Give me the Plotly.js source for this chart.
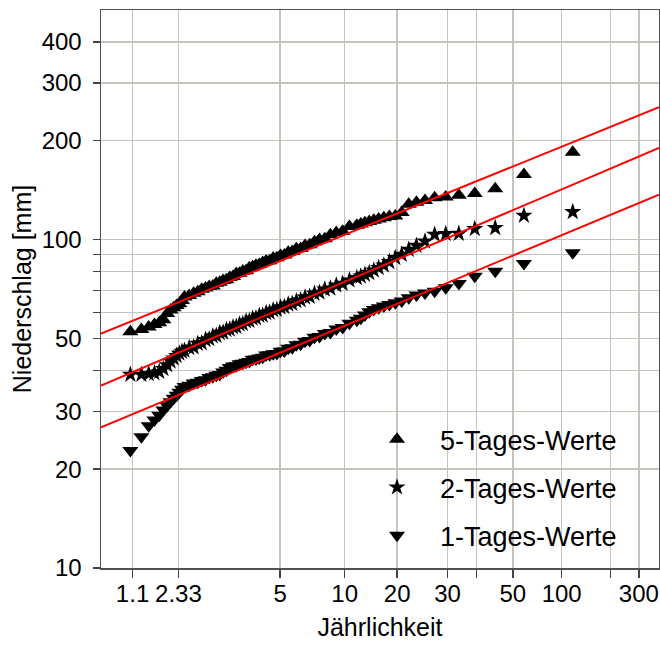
<!DOCTYPE html>
<html>
<head>
<meta charset="utf-8">
<script src="https://cdn.plot.ly/plotly-3.0.1.min.js"></script>
<style>html,body{margin:0;padding:0;background:#fff;}#chart{width:660px;height:646px;}</style>
</head>
<body>
<div id="chart"></div>
<script>
// Gumbel reduced variate of each plotting position (rank 1 = largest)
const reducedVariate = [4.7579,4.0604,3.6506,3.3585,3.1309,2.9441,2.7855,2.6475,2.5252,2.4152,2.3153,2.2236,2.1389,2.0600,1.9862,1.9169,1.8514,1.7894,1.7304,1.6741,
 1.5685,1.4713,1.3810,1.2962,1.2165,1.1409,1.0689,1.0004,0.9346,0.8714,0.8104,0.7514,0.6942,0.6386,0.5843,0.5314,0.4796,0.4288,0.3789,0.3297,0.2813,0.2333,0.1859,0.1390,0.0921,0.0455,-0.0010,-0.0475,-0.0940,-0.1409,-0.1880,-0.2356,-0.2838,-0.3328,-0.3828,-0.4340,-0.4866,-0.5410,-0.5976,-0.6570,-0.7199,-0.7872,
 -0.8230,-0.8605,-0.9000,-0.9419,-0.9868,-1.0354,-1.0887,-1.1483,-1.2166,-1.2984,-1.4034,-1.5607];

const werte5Tage = [184.5,157.8,142.7,138.0,136.4,134.8,134.0,131.5,130.0,128.0,121.0,118.0,117.5,116.5,115.5,114.5,113.5,112.5,111.5,110.6,
 109.5,106.0,105.0,103.5,100.5,100.0,98.5,96.5,96.0,94.0,93.8,92.0,91.5,89.8,89.5,88.0,87.8,86.2,86.0,85.2,84.0,83.5,82.6,82.0,80.4,80.2,79.0,78.8,77.2,76.6,75.4,75.0,74.2,73.6,72.2,72.0,71.2,70.6,69.4,68.6,67.6,66.8,
 65.2,63.8,63.0,62.0,61.0,59.5,57.0,55.8,55.1,54.2,53.2,52.4];

const werte2Tage = [121.4,118.3,108.5,107.8,104.3,104.1,103.6,98.8,95.9,93.2,90.0,88.0,85.5,83.5,82.0,80.6,79.2,78.2,77.3,76.5,
 75.2,73.4,72.6,71.0,70.5,69.0,68.5,67.0,66.7,65.4,65.0,63.8,63.5,62.4,62.2,61.2,61.0,60.0,59.8,58.8,58.7,57.7,57.5,56.6,56.4,55.4,55.2,54.3,54.1,53.3,53.1,52.2,52.0,51.0,50.8,49.8,49.5,48.4,48.2,47.0,46.8,45.9,
 45.6,45.0,44.3,43.5,42.6,41.5,40.4,39.6,39.2,39.0,38.8,38.8];

const werte1Tag = [91.1,84.5,80.1,77.3,73.5,71.3,69.6,68.8,67.8,66.5,65.0,64.2,63.4,62.8,62.0,61.2,60.3,58.9,57.6,56.8,
 55.6,54.0,53.4,52.1,51.8,50.7,50.4,49.3,49.0,48.0,47.8,46.8,46.7,45.8,45.7,45.0,44.9,44.6,44.5,43.8,43.6,43.3,43.2,42.5,42.3,42.0,41.9,41.3,41.2,40.8,40.0,39.5,38.8,38.6,38.2,38.0,37.4,37.2,36.8,36.6,36.0,35.7,
 35.0,34.3,33.6,32.9,32.1,31.2,30.3,29.2,28.2,27.1,25.1,22.8];

// Fitted lines (end points across the axis range)
const fitU = [-1.98, 5.99];
const fit5Tage = [51.7, 252.9];
const fit2Tage = [35.9, 190.2];
const fit1Tag = [26.8, 137.1];

// Axis ticks as drawn in the reference
const xTickVals = [-1.5293,-0.8746,0.5785,1.4999,2.2504,2.9702,3.3843,3.9019,4.6001,5.2958,5.7021];
const xTickText = ['1.1','2.33','5','10','20','30','','50','100','','300'];
const yTickVals = [10,20,30,40,50,60,70,80,90,100,200,300,400];
const yTickText = ['10','20','30','','50','','','','','100','200','300','400'];

const seriesNames = ['5-Tages-Werte','2-Tages-Werte','1-Tages-Werte'];

const FONT = '"Liberation Sans", Arial, sans-serif';

function pts(y, name, symbol, size, grp){
  return {type:'scatter', mode:'markers', x:reducedVariate, y:y, name:name, legendgroup:grp,
    marker:{symbol:symbol, size:size, color:'#000', line:{width:0}}, showlegend:true};
}
function fit(y){
  return {type:'scatter', mode:'lines', x:fitU, y:y, line:{color:'#ff0000', width:2}, showlegend:false, hoverinfo:'skip'};
}

const data = [
  pts(werte5Tage, seriesNames[0], 'triangle-up', 14, 'a'),
  pts(werte2Tage, seriesNames[1], 'star', 13, 'b'),
  pts(werte1Tag, seriesNames[2], 'triangle-down', 14, 'c'),
  fit(fit5Tage), fit(fit2Tage), fit(fit1Tag)
];

const layout = {
  width:660, height:646,
  margin:{l:101, r:1, t:10, b:78},
  paper_bgcolor:'#fff', plot_bgcolor:'#fff',
  font:{family:FONT, size:24, color:'#000'},
  showlegend:true,
  xaxis:{type:'linear', range:[-1.98,5.99], tickmode:'array', tickvals:xTickVals, ticktext:xTickText,
    tickangle:0, ticks:'outside', ticklen:8, tickwidth:1.5, tickcolor:'#444',
    showgrid:true, gridcolor:'#c4c4bc', gridwidth:1.5, zeroline:false,
    showline:true, linecolor:'#505050', linewidth:1.5, mirror:true, ticklabelstandoff:-4,
    tickfont:{size:24}, title:{text:'Jährlichkeit', font:{size:25}, standoff:12}, automargin:false},
  yaxis:{type:'log', range:[1, Math.log10(500)], tickmode:'array', tickvals:yTickVals, ticktext:yTickText,
    ticks:'outside', ticklen:7, tickwidth:1.5, tickcolor:'#444',
    showgrid:true, gridcolor:'#c4c4bc', gridwidth:1.5, zeroline:false,
    showline:true, linecolor:'#505050', linewidth:1.5, mirror:true, ticklabelstandoff:6,
    tickfont:{size:24}, title:{text:'Niederschlag [mm]', font:{size:25}, standoff:3}, automargin:false},
  legend:{x:0.4534, y:0.274, xanchor:'left', yanchor:'top', bgcolor:'rgba(0,0,0,0)', borderwidth:0,
    font:{size:27}, itemwidth:76, tracegroupgap:10, itemsizing:'trace'}
};

Plotly.newPlot('chart', data, layout, {staticPlot:true, displayModeBar:false});
</script>
</body>
</html>
